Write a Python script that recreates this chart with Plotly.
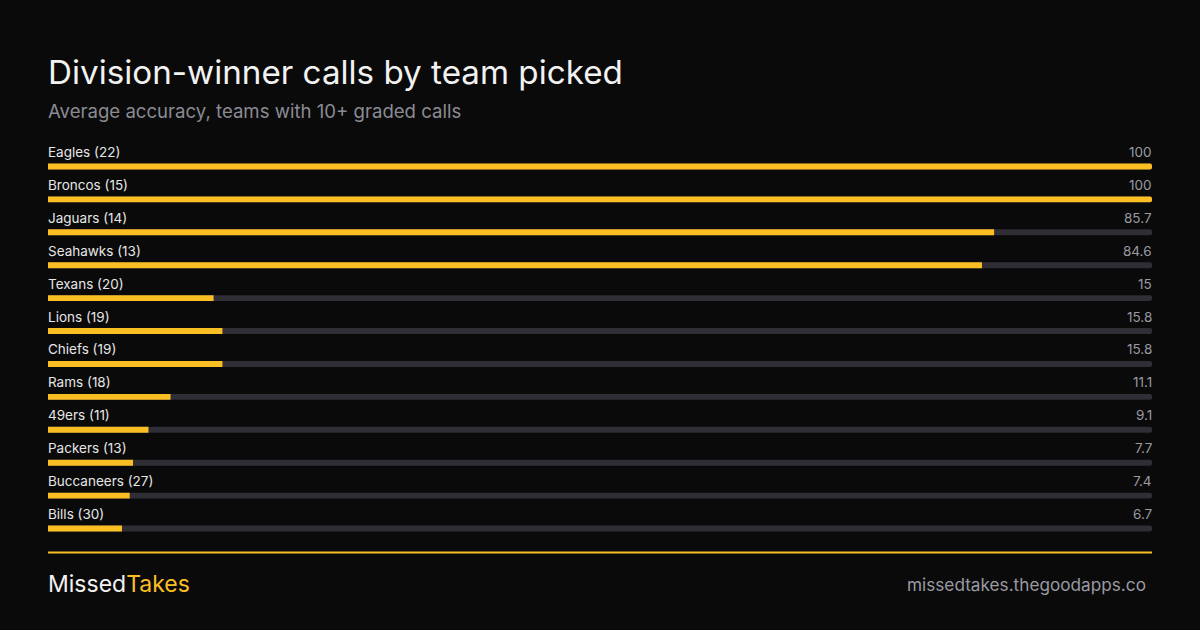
import plotly.graph_objects as go

# data, top to bottom
teams = ["Eagles", "Broncos", "Jaguars", "Seahawks", "Texans", "Lions",
         "Chiefs", "Rams", "49ers", "Packers", "Buccaneers", "Bills"]
calls = [22, 15, 14, 13, 20, 19, 19, 18, 11, 13, 27, 30]
accuracy = [100, 100, 85.7, 84.6, 15, 15.8, 15.8, 11.1, 9.1, 7.7, 7.4, 6.7]
max_value = 100

BG = "#0a0a0a"
AMBER = "#fbbf24"
TRACK = "#2f2d35"
FONT = "Inter"

rows = list(range(len(teams)))

fig = go.Figure()
# grey track behind each bar
fig.add_trace(go.Bar(
    x=[max_value] * len(teams), y=rows, orientation="h",
    marker=dict(color=TRACK, cornerradius=3, line_width=0),
    width=0.18, hoverinfo="skip", showlegend=False,
))
fig.add_trace(go.Bar(
    x=accuracy, y=rows, orientation="h",
    marker=dict(color=AMBER, cornerradius=3, line_width=0),
    width=0.18, showlegend=False,
    customdata=teams, hovertemplate="%{customdata}: %{x}<extra></extra>",
))

# row labels (xshift compensates the annotation box padding)
for i, (t, n, v) in enumerate(zip(teams, calls, accuracy)):
    fig.add_annotation(x=0, y=i, text=f"{t} ({n})", xanchor="left", yanchor="middle",
                       xshift=-2, yshift=14.5, showarrow=False,
                       font=dict(family=FONT, size=13.5, color="#e6e6e6"))
    fig.add_annotation(x=max_value, y=i, text=f"{v:g}", xanchor="right", yanchor="middle",
                       xshift=2, yshift=14.5, showarrow=False,
                       font=dict(family=FONT, size=13.5, color="#9a9aa2"))

plot_top = 149.5
plot_h = 396
plot_bottom = 630 - plot_top - plot_h


def py(px):
    # pixel from top -> paper coordinate
    return (630 - plot_bottom - px) / plot_h


# header
fig.add_annotation(x=0, y=py(71), xref="paper", yref="paper", text="Division-winner calls by team picked",
                   xanchor="left", yanchor="middle", xshift=-2, showarrow=False,
                   font=dict(family=FONT, size=33.2, color="#f2f2f2"))
fig.add_annotation(x=0, y=py(110), xref="paper", yref="paper", text="Average accuracy, teams with 10+ graded calls",
                   xanchor="left", yanchor="middle", xshift=-2, showarrow=False,
                   font=dict(family=FONT, size=18.6, color="#8b8b93"))

# footer
fig.add_shape(type="line", xref="paper", yref="paper", x0=0, x1=1, y0=py(553), y1=py(553),
              line=dict(color=AMBER, width=2))
fig.add_annotation(x=0, y=py(585), xref="paper", yref="paper",
                   text="Missed<span style='color:%s'>Takes</span>" % AMBER,
                   xanchor="left", yanchor="middle", xshift=-2, showarrow=False,
                   font=dict(family=FONT, size=23, color="#f2f2f2"))
fig.add_annotation(x=1, y=py(585), xref="paper", yref="paper", text="missedtakes.thegoodapps.co",
                   xanchor="right", yanchor="middle", xshift=-4, showarrow=False,
                   font=dict(family=FONT, size=17.2, color="#9a9aa2"))

fig.update_layout(
    width=1200, height=630,
    paper_bgcolor=BG, plot_bgcolor=BG,
    barmode="overlay",
    margin=dict(l=48, r=48, t=plot_top, b=plot_bottom, pad=0),
    xaxis=dict(range=[0, max_value], visible=False, fixedrange=True),
    yaxis=dict(range=[len(teams) - 0.5, -0.5], visible=False, fixedrange=True),
    font=dict(family=FONT),
)

fig.write_html("out.html", config={"displayModeBar": False},
               post_script="document.body.style.margin='0';document.body.style.background='%s';" % BG)
